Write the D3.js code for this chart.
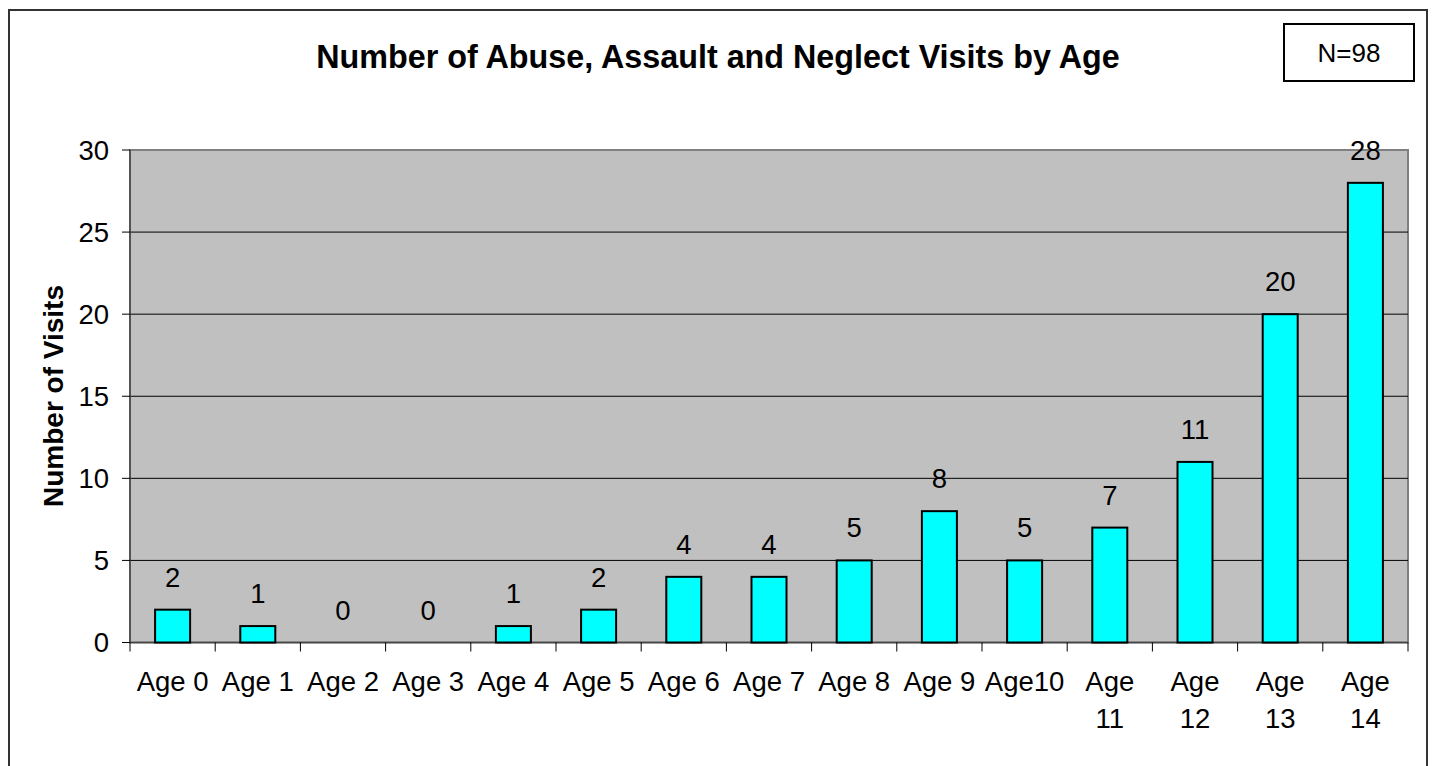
<!DOCTYPE html>
<html>
  <head>
    <meta charset="utf-8">
    <title>Abuse, Assault and Neglect Visits by Age</title>
    <style>
      body { margin: 0; background: #fff; }
      text { font-family: "Liberation Sans", Arial, sans-serif; fill: #000; }
    </style>
  </head>
  <body>
    <script src="https://d3js.org/d3.v7.min.js"></script>
    <script>
      // chart data
      var ages = ["Age 0", "Age 1", "Age 2", "Age 3", "Age 4", "Age 5", "Age 6", "Age 7",
                  "Age 8", "Age 9", "Age10", "Age 11", "Age 12", "Age 13", "Age 14"];
      var visits = [2, 1, 0, 0, 1, 2, 4, 4, 5, 8, 5, 7, 11, 20, 28];
      var yTicks = [0, 5, 10, 15, 20, 25, 30];
      var title = "Number of Abuse, Assault and Neglect Visits by Age";
      var yTitle = "Number of Visits";
      var note = "N=98";

      var width = 1432, height = 766;
      var plot = {left: 130, right: 1408, top: 150, bottom: 642.5};

      // pair each category with its value
      var rows = ages.map(function(a, i){ return {age: a, value: visits[i]}; });

      var svg = d3.select("body").append("svg")
        .attr("width", width)
        .attr("height", height);

      // outer frame (bottom edge is cut off in the original)
      svg.append("rect")
        .attr("x", 9).attr("y", 10)
        .attr("width", 1418).attr("height", 780)
        .attr("fill", "none")
        .attr("stroke", "#333")
        .attr("stroke-width", 2);

      var x = d3.scaleBand()
        .domain(ages)
        .range([plot.left, plot.right])
        .padding(0);

      var y = d3.scaleLinear()
        .domain([0, 30])
        .range([plot.bottom, plot.top]);

      // grey plot area
      svg.append("rect")
        .attr("x", plot.left).attr("y", plot.top)
        .attr("width", plot.right - plot.left)
        .attr("height", plot.bottom - plot.top)
        .attr("fill", "#c0c0c0")
        .attr("stroke", "#808080")
        .attr("stroke-width", 2);

      // gridlines
      svg.selectAll("line.grid")
        .data(yTicks.filter(function(d){ return d > 0 && d < 30; }))
        .enter().append("line")
        .attr("class", "grid")
        .attr("x1", plot.left).attr("x2", plot.right)
        .attr("y1", function(d){ return y(d); })
        .attr("y2", function(d){ return y(d); })
        .attr("stroke", "#000")
        .attr("stroke-width", 1);

      // y axis ticks and labels
      var yAxis = svg.append("g");
      yAxis.append("line")
        .attr("x1", plot.left).attr("x2", plot.left)
        .attr("y1", plot.top).attr("y2", plot.bottom)
        .attr("stroke", "#444").attr("stroke-width", 1.5);
      yAxis.selectAll("line.tick")
        .data(yTicks)
        .enter().append("line")
        .attr("class", "tick")
        .attr("x1", plot.left - 8).attr("x2", plot.left)
        .attr("y1", function(d){ return y(d); })
        .attr("y2", function(d){ return y(d); })
        .attr("stroke", "#000");
      yAxis.selectAll("text")
        .data(yTicks)
        .enter().append("text")
        .attr("x", 109)
        .attr("y", function(d){ return y(d) + 9.5; })
        .attr("text-anchor", "end")
        .attr("font-size", "27.5px")
        .text(function(d){ return d; });

      // x axis baseline and ticks at category edges
      svg.append("line")
        .attr("x1", plot.left).attr("x2", plot.right)
        .attr("y1", plot.bottom).attr("y2", plot.bottom)
        .attr("stroke", "#444").attr("stroke-width", 1.5);
      var edges = ages.map(function(d){ return x(d); }).concat([plot.right]);
      svg.selectAll("line.xtick")
        .data(edges)
        .enter().append("line")
        .attr("class", "xtick")
        .attr("x1", function(d){ return d; })
        .attr("x2", function(d){ return d; })
        .attr("y1", plot.bottom).attr("y2", plot.bottom + 9)
        .attr("stroke", "#000");

      // category labels, wrapped where the original wraps
      var xLabels = svg.selectAll("text.xlab")
        .data(ages)
        .enter().append("text")
        .attr("class", "xlab")
        .attr("text-anchor", "middle")
        .attr("font-size", "27.5px");
      xLabels.each(function(d){
        var cx = x(d) + x.bandwidth() / 2;
        var parts = /^Age \d\d$/.test(d) ? d.split(" ") : [d];
        d3.select(this).selectAll("tspan")
          .data(parts)
          .enter().append("tspan")
          .attr("x", cx)
          .attr("y", function(p, i){ return 691 + i * 37; })
          .text(function(p){ return p; });
      });

      // bars (zero values draw nothing)
      var barW = 35;
      svg.selectAll("rect.bar")
        .data(rows.filter(function(r){ return r.value > 0; }))
        .enter().append("rect")
        .attr("class", "bar")
        .attr("x", function(r){ return x(r.age) + (x.bandwidth() - barW) / 2; })
        .attr("y", function(r){ return y(r.value); })
        .attr("width", barW)
        .attr("height", function(r){ return plot.bottom - y(r.value); })
        .attr("fill", "#00ffff")
        .attr("stroke", "#000")
        .attr("stroke-width", 2);

      // value labels
      svg.selectAll("text.val")
        .data(rows)
        .enter().append("text")
        .attr("class", "val")
        .attr("x", function(r){ return x(r.age) + x.bandwidth() / 2; })
        .attr("y", function(r){ return y(r.value) - 23; })
        .attr("text-anchor", "middle")
        .attr("font-size", "27.5px")
        .text(function(r){ return r.value; });

      // title
      svg.append("text")
        .attr("x", 718).attr("y", 68)
        .attr("text-anchor", "middle")
        .attr("font-size", "32.3px")
        .attr("font-weight", "bold")
        .text(title);

      // y axis title
      svg.append("text")
        .attr("transform", "translate(63,396) rotate(-90)")
        .attr("text-anchor", "middle")
        .attr("font-size", "28px")
        .attr("font-weight", "bold")
        .text(yTitle);

      // N box
      svg.append("rect")
        .attr("x", 1284).attr("y", 24)
        .attr("width", 130).attr("height", 57)
        .attr("fill", "#fff")
        .attr("stroke", "#000")
        .attr("stroke-width", 2);
      svg.append("text")
        .attr("x", 1349).attr("y", 62)
        .attr("text-anchor", "middle")
        .attr("font-size", "26px")
        .text(note);
    </script>
  </body>
</html>
